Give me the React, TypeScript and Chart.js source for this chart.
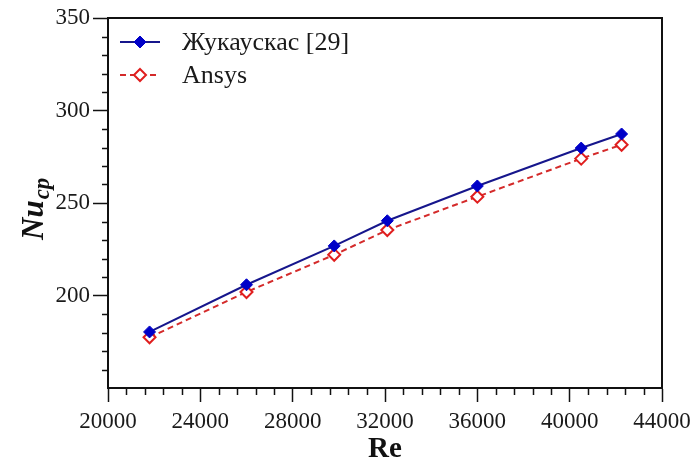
import React, { useEffect, useRef } from "react";
import { Chart, registerables } from "chart.js";

Chart.register(...registerables);

const reValues = [21800, 26000, 29800, 32100, 36000, 40500, 42250];
const zhukauskas = [180.3, 205.8, 226.8, 240.4, 259.2, 279.7, 287.3];
const ansys = [177.4, 201.9, 222.0, 235.4, 253.4, 274.0, 281.5];
const seriesNames = ["Жукаускас [29]", "Ansys"];
const xTitle = "Re";
const yTitleMain = "Nu";
const yTitleSub = "cp";

const SERIF = "'Liberation Serif', 'Times New Roman', serif";

const framePlugin = {
  id: "frameAndExtras",
  afterDraw(chart: any) {
    const { ctx, chartArea } = chart;
    const xs = chart.scales.x;
    const ys = chart.scales.y;
    ctx.save();
    // frame top/right
    ctx.strokeStyle = "#111";
    ctx.lineWidth = 2;
    ctx.beginPath();
    ctx.moveTo(chartArea.left, chartArea.top);
    ctx.lineTo(chartArea.right, chartArea.top);
    ctx.lineTo(chartArea.right, chartArea.bottom);
    ctx.stroke();
    // minor ticks
    ctx.lineWidth = 1.5;
    ctx.beginPath();
    for (let v = 20000; v <= 44000; v += 800) {
      if (v % 4000 === 0) continue;
      const px = Math.round(xs.getPixelForValue(v)) + 0.5;
      ctx.moveTo(px, chartArea.bottom);
      ctx.lineTo(px, chartArea.bottom + 7);
    }
    for (let v = 150; v <= 350; v += 10) {
      if (v % 50 === 0) continue;
      const py = Math.round(ys.getPixelForValue(v)) + 0.5;
      ctx.moveTo(chartArea.left - 6, py);
      ctx.lineTo(chartArea.left, py);
    }
    ctx.stroke();

    // legend
    const ds = chart.data.datasets;
    ds.forEach((d: any, i: number) => {
      const y = 42 + i * 33;
      ctx.save();
      ctx.strokeStyle = d.borderColor;
      ctx.lineWidth = d.borderWidth;
      ctx.setLineDash(d.borderDash || []);
      ctx.beginPath();
      ctx.moveTo(120, y);
      ctx.lineTo(160, y);
      ctx.stroke();
      ctx.setLineDash([]);
      const r = d.pointRadius;
      ctx.beginPath();
      ctx.moveTo(140, y - r);
      ctx.lineTo(140 + r, y);
      ctx.lineTo(140, y + r);
      ctx.lineTo(140 - r, y);
      ctx.closePath();
      ctx.fillStyle = d.pointBackgroundColor;
      ctx.fill();
      ctx.strokeStyle = d.pointBorderColor;
      ctx.lineWidth = d.pointBorderWidth;
      ctx.stroke();
      ctx.fillStyle = "#1a1a1a";
      ctx.font = `26px ${SERIF}`;
      ctx.textAlign = "left";
      ctx.textBaseline = "middle";
      ctx.fillText(d.label, 182, y + 1);
      ctx.restore();
    });

    // x title
    ctx.fillStyle = "#111";
    ctx.font = `bold 29px ${SERIF}`;
    ctx.textAlign = "center";
    ctx.textBaseline = "alphabetic";
    ctx.fillText(xTitle, (chartArea.left + chartArea.right) / 2, 457);

    // y title rotated
    ctx.save();
    ctx.translate(43, 240);
    ctx.rotate(-Math.PI / 2);
    ctx.textAlign = "left";
    ctx.textBaseline = "alphabetic";
    ctx.font = `italic bold 31px ${SERIF}`;
    ctx.fillText(yTitleMain, 0, 0);
    const w = ctx.measureText(yTitleMain).width;
    ctx.font = `italic bold 23px ${SERIF}`;
    ctx.fillText(yTitleSub, w + 1, 6);
    ctx.restore();

    ctx.restore();
  },
};

export default function App() {
  const ref = useRef<HTMLCanvasElement | null>(null);
  useEffect(() => {
    if (!ref.current) return;
    const chart = new Chart(ref.current, {
      type: "line",
      data: {
        datasets: [
          {
            label: seriesNames[0],
            data: reValues.map((x, i) => ({ x, y: zhukauskas[i] })),
            borderColor: "#16168c",
            borderWidth: 2,
            pointStyle: "rectRot",
            pointRadius: 6,
            pointBackgroundColor: "#0000c8",
            pointBorderColor: "#0000c8",
            pointBorderWidth: 1,
            tension: 0,
          },
          {
            label: seriesNames[1],
            data: reValues.map((x, i) => ({ x, y: ansys[i] })),
            borderColor: "#d42a2a",
            borderWidth: 2,
            borderDash: [6, 4],
            pointStyle: "rectRot",
            pointRadius: 6,
            pointBackgroundColor: "#ffffff",
            pointBorderColor: "#e01e1e",
            pointBorderWidth: 2,
            tension: 0,
          },
        ],
      },
      options: {
        animation: false,
        responsive: false,
        maintainAspectRatio: false,
        layout: { padding: { top: 18, right: 30, left: 0, bottom: 0 } },
        plugins: { legend: { display: false }, tooltip: { enabled: false } },
        scales: {
          x: {
            type: "linear",
            min: 20000,
            max: 44000,
            afterFit: (s: any) => {
              s.height = 76;
              s.paddingLeft = 0;
              s.paddingRight = 0;
            },
            ticks: {
              stepSize: 4000,
              color: "#1a1a1a",
              font: { family: SERIF, size: 23 },
              padding: 6,
              maxRotation: 0,
              autoSkip: false,
              callback: (v: any) => String(v),
            },
            grid: {
              drawOnChartArea: false,
              drawTicks: true,
              tickLength: 14,
              tickColor: "#111",
              tickWidth: 1.5,
            },
            border: { display: true, color: "#111", width: 2 },
          },
          y: {
            type: "linear",
            min: 150,
            max: 350,
            afterFit: (s: any) => {
              s.width = 108;
              s.paddingTop = 0;
              s.paddingBottom = 0;
            },
            ticks: {
              stepSize: 50,
              color: "#1a1a1a",
              font: { family: SERIF, size: 23 },
              padding: 3,
              callback: (v: any) => (v === 150 ? "" : String(v)),
            },
            grid: {
              drawOnChartArea: false,
              drawTicks: true,
              tickLength: 15,
              tickColor: (c: any) => (c.tick && c.tick.value === 150 ? "rgba(0,0,0,0)" : "#111"),
              tickWidth: 1.5,
            },
            border: { display: true, color: "#111", width: 2 },
          },
        },
      },
      plugins: [framePlugin],
    });
    return () => chart.destroy();
  }, []);
  return (
    <div style={{ position: "fixed", left: 0, top: 0, width: 692, height: 464, background: "#fff" }}>
      <canvas ref={ref} width={692} height={464} style={{ width: 692, height: 464 }} />
    </div>
  );
}
